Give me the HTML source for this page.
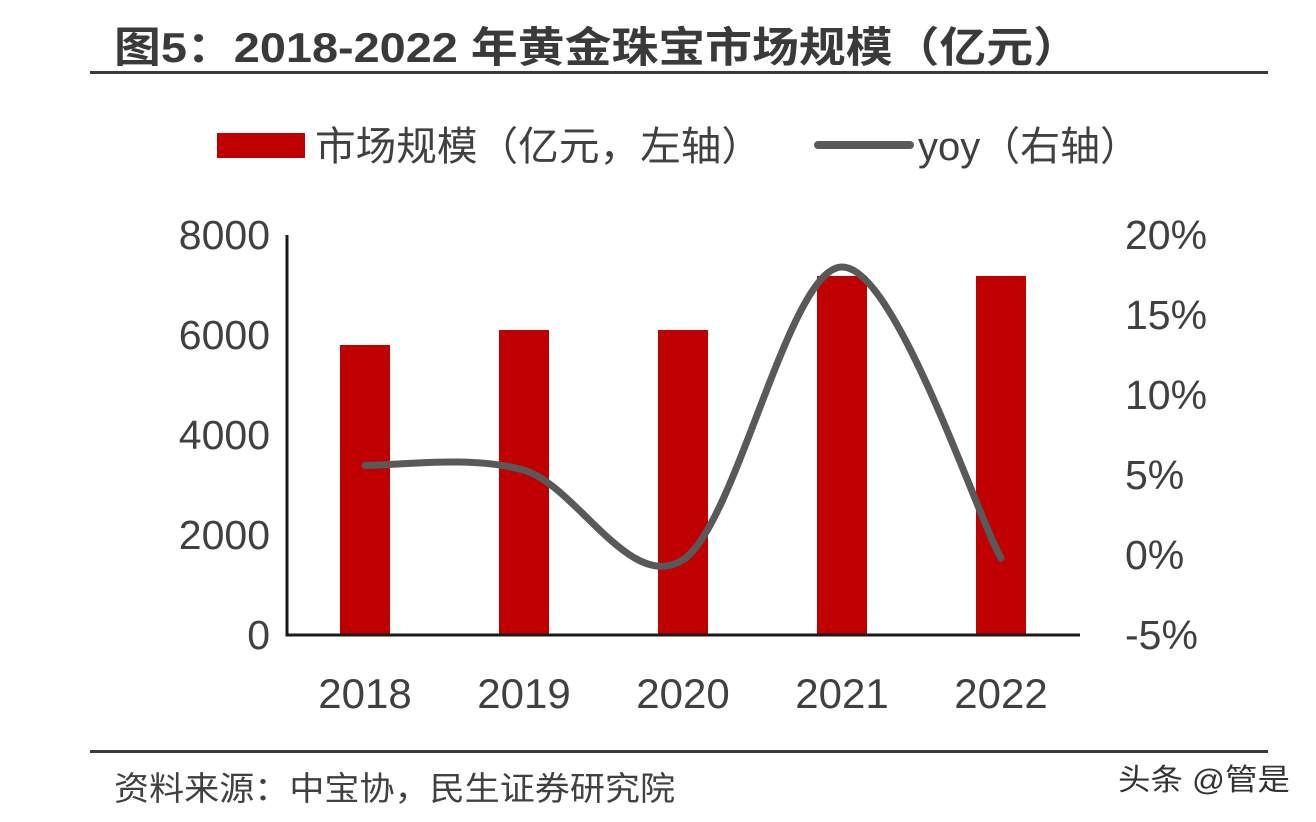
<!DOCTYPE html>
<html><head><meta charset="utf-8"><style>
body{margin:0;background:#fff;width:1316px;height:822px;overflow:hidden;font-family:"Liberation Sans","Noto Sans CJK SC",sans-serif;}
</style></head><body>
<svg width="1316" height="822" xmlns="http://www.w3.org/2000/svg" style="position:absolute;left:0;top:0" id="chart">
<text x="114" y="62" font-size="42" font-weight="bold" fill="#3a3a3a" textLength="966" lengthAdjust="spacingAndGlyphs">图5：2018-2022 年黄金珠宝市场规模（亿元）</text>
<rect x="90" y="71" width="1178" height="3" fill="#3a3a3a"/>
<g>
<rect x="217" y="133" width="88" height="25" fill="#c00000"/>
<text x="315" y="160" font-size="40" fill="#404040" textLength="447" lengthAdjust="spacingAndGlyphs">市场规模（亿元，左轴）</text>
<line x1="818" y1="145" x2="910" y2="145" stroke="#595959" stroke-width="8" stroke-linecap="round"/>
<text x="918" y="160" font-size="40" fill="#404040" textLength="222" lengthAdjust="spacingAndGlyphs">yoy（右轴）</text>
</g>
<g id="plot"></g>
<rect x="90" y="750" width="1178" height="3" fill="#3a3a3a"/>
<text x="114" y="800" font-size="33" fill="#404040" textLength="561" lengthAdjust="spacingAndGlyphs">资料来源：中宝协，民生证券研究院</text>
<text x="1118" y="790" font-size="30" fill="#333" textLength="172" lengthAdjust="spacingAndGlyphs">头条 @管是</text>
</svg>
<script>
const categories=["2018","2019","2020","2021","2022"];
const marketSize=[5800,6100,6100,7180,7180];
const yoy=[5.6,5.3,-0.3,18,-0.2];
const leftTicks=[0,2000,4000,6000,8000];
const rightTicks=[-5,0,5,10,15,20];
const NS="http://www.w3.org/2000/svg";
const g=document.getElementById('plot');
const x0=287,x1=1080,yTop=235,yBot=635;
const yL=v=>yBot-(v/8000)*(yBot-yTop);
const yR=v=>yBot-((v+5)/25)*(yBot-yTop);
const xC=i=>x0+78+i*159;
function mk(t,a){const e=document.createElementNS(NS,t);for(const k in a)e.setAttribute(k,a[k]);g.appendChild(e);return e;}
categories.forEach((c,i)=>{
const r=mk('rect',{x:xC(i)-25,y:yL(marketSize[i]),width:50,height:yBot-yL(marketSize[i]),fill:'#c00000'});


const t=mk('text',{x:xC(i),y:708,'font-size':42,fill:'#404040','text-anchor':'middle'});t.textContent=c;


});
leftTicks.forEach(v=>{const t=mk('text',{x:270,y:yL(v)+14,'font-size':41,fill:'#404040','text-anchor':'end'});t.textContent=v;

});
rightTicks.forEach(v=>{const t=mk('text',{x:1125,y:yR(v)+14,'font-size':41,fill:'#404040'});t.textContent=v+'%';

});
const ax=mk('path',{d:`M${x0},${yTop} V${yBot} H${x1}`,stroke:'#1a1a1a','stroke-width':3,fill:'none'});


const pts=yoy.map((v,i)=>[xC(i),yR(v)]);
let d=`M${pts[0][0]},${pts[0][1]}`;
for(let i=0;i<pts.length-1;i++){const p0=pts[Math.max(0,i-1)],p1=pts[i],p2=pts[i+1],p3=pts[Math.min(pts.length-1,i+2)];
const c1=[p1[0]+(p2[0]-p0[0])/6,p1[1]+(p2[1]-p0[1])/6],c2=[p2[0]-(p3[0]-p1[0])/6,p2[1]-(p3[1]-p1[1])/6];
d+=` C${c1[0]},${c1[1]} ${c2[0]},${c2[1]} ${p2[0]},${p2[1]}`;}
const ln=mk('path',{d:d,stroke:'#595959','stroke-width':7,fill:'none','stroke-linecap':'round'});


</script>
</body></html>
